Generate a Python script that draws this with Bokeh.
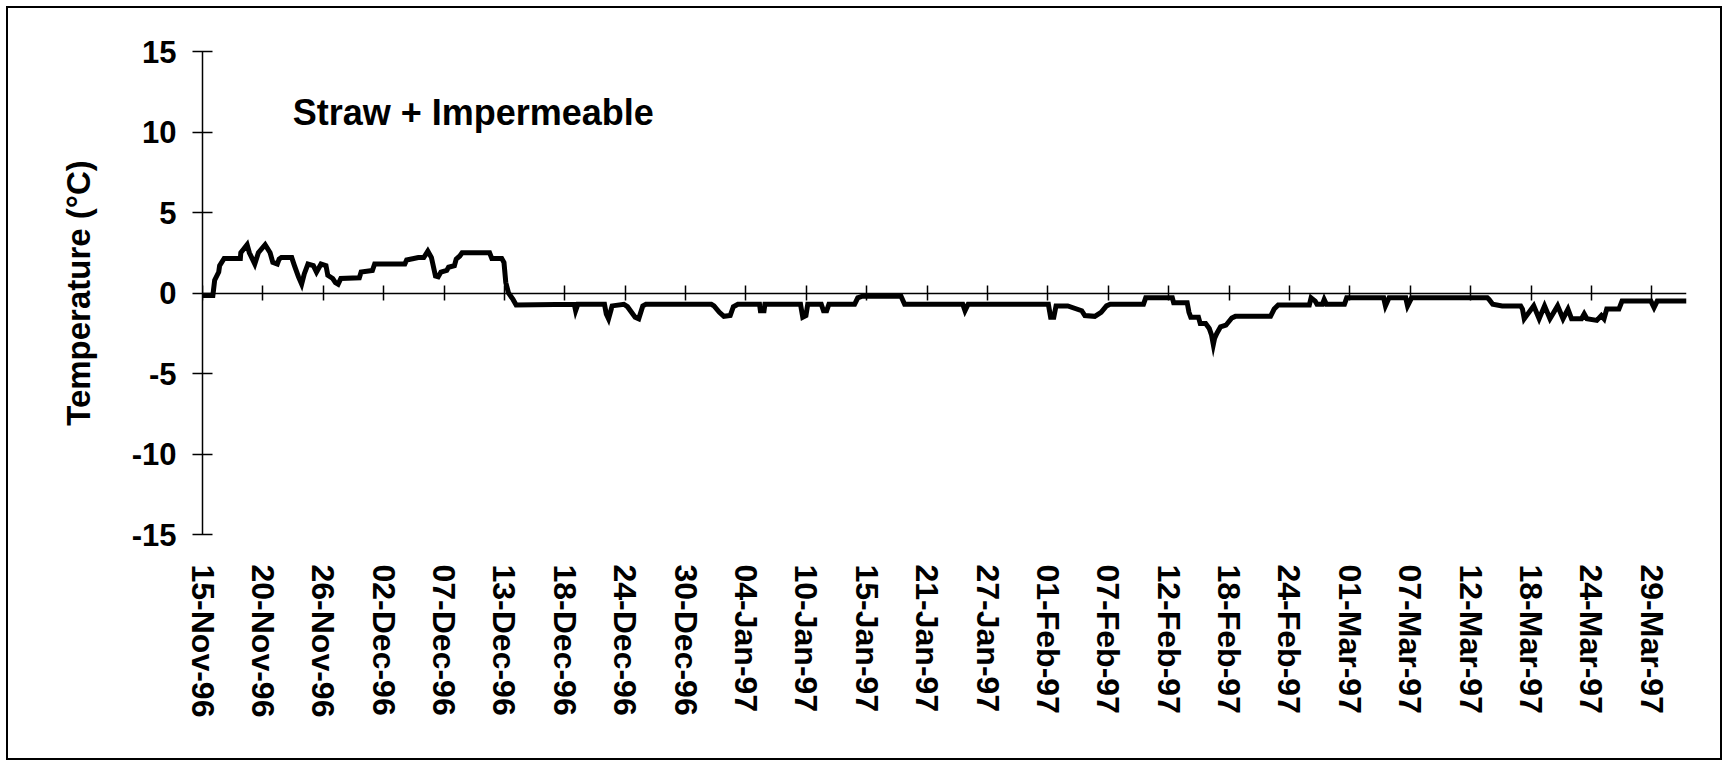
from bokeh.plotting import figure
from bokeh.models import Range1d, LinearAxis, FixedTicker, Label
from bokeh.embed import file_html
from bokeh.resources import INLINE

# ---- data -------------------------------------------------------------
tick_labels = ["15-Nov-96", "20-Nov-96", "26-Nov-96", "02-Dec-96", "07-Dec-96",
               "13-Dec-96", "18-Dec-96", "24-Dec-96", "30-Dec-96", "04-Jan-97",
               "10-Jan-97", "15-Jan-97", "21-Jan-97", "27-Jan-97", "01-Feb-97",
               "07-Feb-97", "12-Feb-97", "18-Feb-97", "24-Feb-97", "01-Mar-97",
               "07-Mar-97", "12-Mar-97", "18-Mar-97", "24-Mar-97", "29-Mar-97"]
# category (hourly reading) index of each labelled tick
tick_hours = [0, 134, 268, 402, 536, 670, 804, 938, 1072, 1206, 1340, 1474, 1608,
              1742, 1876, 2010, 2144, 2278, 2412, 2546, 2680, 2814, 2948, 3082, 3216]
y_ticks = [-15, -10, -5, 0, 5, 10, 15]

hours = [0, 23, 27, 36, 38, 48, 84, 85, 99, 104, 116, 124, 139, 150, 156,
         166, 170, 175, 198, 204, 213, 220, 226, 234, 246, 253, 263, 274, 278, 289,
         295, 301, 307, 348, 352, 377, 382, 449, 453, 479, 491, 500, 508, 517, 523,
         529, 542, 546, 559, 563, 571, 576, 637, 642, 664, 669, 673, 679, 689, 696,
         825, 828, 833, 892, 896, 901, 906, 909, 935, 943, 960, 968, 977, 984,
         1129, 1135, 1147, 1157, 1171, 1178, 1188,
         1236, 1238, 1246, 1248,
         1327, 1332, 1339, 1343,
         1373, 1378, 1385, 1390,
         1447, 1454, 1464, 1550, 1558,
         1687, 1692, 1699,
         1877, 1882, 1889, 1894,
         1920, 1951, 1958, 1980, 1994, 2006, 2014,
         2088, 2093,
         2152, 2155, 2185, 2189, 2193, 2210, 2214, 2226, 2234, 2239, 2243, 2246,
         2251, 2259, 2271, 2284, 2292, 2370, 2378, 2387, 2456, 2460, 2469, 2473,
         2485, 2489, 2494, 2534, 2539, 2621, 2625, 2633, 2670, 2674, 2683, 2851,
         2855, 2863, 2884, 2925, 2929, 2933, 2954, 2966, 2978, 2990, 3007, 3019,
         3030, 3038, 3060, 3066, 3072, 3094, 3104, 3110, 3116, 3143, 3150, 3214,
         3221, 3228, 3293]
temp_c = [-0.15, -0.15, 0.8, 1.3, 1.7, 2.15, 2.15, 2.5, 3.0, 2.5, 1.8, 2.5, 3.0, 2.5, 1.9,
          1.8, 2.1, 2.2, 2.2, 1.7, 1.0, 0.55, 1.2, 1.8, 1.7, 1.3, 1.8, 1.7, 1.1, 0.9,
          0.65, 0.55, 0.9, 0.95, 1.3, 1.4, 1.8, 1.8, 2.05, 2.2, 2.2, 2.6, 2.2, 1.05, 1.0,
          1.3, 1.4, 1.6, 1.7, 2.1, 2.3, 2.5, 2.5, 2.15, 2.15, 1.9, 0.65, 0.0, -0.4, -0.75,
          -0.7, -1.1, -0.7, -0.7, -1.3, -1.6, -1.1, -0.8, -0.7, -0.85, -1.5, -1.6, -0.8, -0.7,
          -0.7, -0.8, -1.2, -1.45, -1.4, -0.85, -0.7,
          -0.7, -1.1, -1.1, -0.7,
          -0.7, -1.5, -1.4, -0.7,
          -0.7, -1.1, -1.1, -0.7,
          -0.7, -0.3, -0.2, -0.2, -0.7,
          -0.7, -1.1, -0.7,
          -0.7, -1.5, -1.5, -0.8,
          -0.8, -1.1, -1.4, -1.45, -1.2, -0.8, -0.7,
          -0.7, -0.3,
          -0.3, -0.6, -0.6, -1.2, -1.5, -1.5, -1.9, -1.9, -2.2, -2.6, -3.2, -2.8,
          -2.5, -2.1, -2.0, -1.55, -1.45, -1.45, -1.0, -0.75, -0.75, -0.3, -0.5, -0.7,
          -0.7, -0.4, -0.7, -0.7, -0.3, -0.3, -0.8, -0.3, -0.3, -0.8, -0.3, -0.3,
          -0.4, -0.7, -0.8, -0.8, -1.0, -1.6, -0.8, -1.6, -0.8, -1.6, -0.8, -1.6,
          -1.0, -1.6, -1.6, -1.3, -1.6, -1.7, -1.4, -1.6, -1.0, -1.0, -0.5, -0.5,
          -0.9, -0.5, -0.5]

FONT = "Liberation Sans"

# ---- figure -----------------------------------------------------------
p = figure(width=1716, height=754, output_backend="svg", toolbar_location=None,
           x_range=Range1d(0, 3293), y_range=Range1d(-15, 15),
           min_border_left=194, min_border_right=38,
           min_border_top=43, min_border_bottom=228)
p.styles = {"border": "2px solid black", "margin": "6px 0px 0px 6px"}
p.xgrid.visible = False
p.ygrid.visible = False
p.outline_line_color = None
p.background_fill_color = "white"
p.border_fill_color = "white"

# bottom axis: only the date labels
xa = p.xaxis[0]
xa.ticker = FixedTicker(ticks=tick_hours)
xa.major_label_overrides = {h: lab for h, lab in zip(tick_hours, tick_labels)}
xa.major_label_orientation = "vertical"
xa.axis_line_color = None
xa.major_tick_line_color = None
xa.minor_tick_line_color = None
xa.major_tick_in = 0
xa.major_tick_out = 0
xa.major_label_standoff = 30
xa.major_label_text_font = FONT
xa.major_label_text_font_style = "bold"
xa.major_label_text_font_size = "32px"
xa.major_label_text_color = "black"

# y axis
ya = p.yaxis[0]
ya.ticker = FixedTicker(ticks=y_ticks)
ya.major_label_overrides = {v: str(v) for v in y_ticks}
ya.axis_line_width = 1.5
ya.axis_line_color = "black"
ya.major_tick_line_width = 1.5
ya.major_tick_line_color = "black"
ya.major_tick_in = 10
ya.major_tick_out = 10
ya.minor_tick_line_color = None
ya.major_label_standoff = 16
ya.major_label_text_font = FONT
ya.major_label_text_font_style = "bold"
ya.major_label_text_font_size = "31px"
ya.major_label_text_color = "black"
ya.axis_label = "Temperature (°C)"
ya.axis_label_text_font = FONT
ya.axis_label_text_font_style = "bold"
ya.axis_label_text_font_size = "33px"
ya.axis_label_text_color = "black"
ya.axis_label_standoff = 32

# horizontal axis line through zero with crossing tick marks
zero_axis = LinearAxis(fixed_location=0, ticker=FixedTicker(ticks=tick_hours),
                       axis_line_width=1.5, axis_line_color="black",
                       major_tick_line_width=1.5, major_tick_line_color="black",
                       major_tick_in=8, major_tick_out=7,
                       minor_tick_line_color=None,
                       major_label_text_color=None, major_label_text_font_size="1px",
                       major_label_standoff=0)
p.add_layout(zero_axis, "below")

p.line(hours, temp_c, line_color="black", line_width=5, line_join="miter")

p.add_layout(Label(x=200, y=11.2, text="Straw + Impermeable",
                   text_font=FONT, text_font_style="bold", text_font_size="36px",
                   text_color="black", text_baseline="alphabetic"))

open("out.html", "w").write(file_html(p, INLINE))
